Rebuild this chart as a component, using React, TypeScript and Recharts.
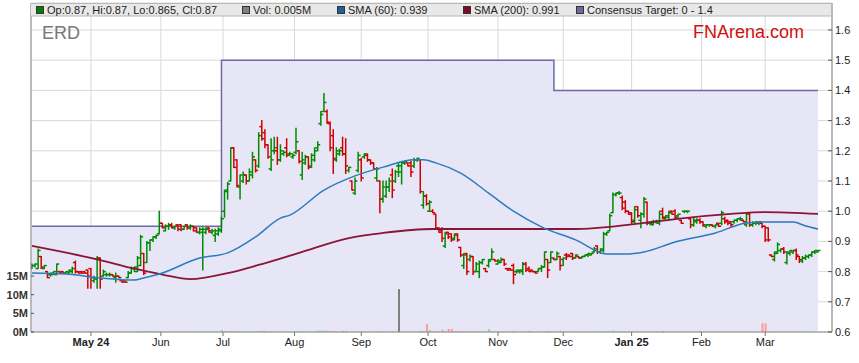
import React from 'react'
import {
  ComposedChart, Area, Bar, Line, XAxis, YAxis, CartesianGrid, Cell,
} from 'recharts'

// [open, high, low, close, volume (M)] per trading day
const apr24 = [
  [0.81, 0.825, 0.81, 0.82, 0.1], [0.82, 0.825, 0.815, 0.825, 0.05], [0.81, 0.875, 0.81, 0.87, 0.2],
  [0.85, 0.85, 0.81, 0.815, 0.1], [0.81, 0.82, 0.81, 0.82, 0.05], [0.8, 0.8, 0.78, 0.78, 0.1],
  [0.79, 0.795, 0.785, 0.79, 0.05], [0.795, 0.8, 0.79, 0.8, 0.05], [0.79, 0.825, 0.79, 0.825, 0.1],
  [0.8, 0.8, 0.795, 0.795, 0.05], [0.8, 0.8, 0.795, 0.795, 0.05], [0.795, 0.8, 0.795, 0.8, 0.05],
  [0.795, 0.805, 0.795, 0.805, 0.05], [0.8, 0.815, 0.795, 0.81, 0.1], [0.83, 0.835, 0.795, 0.8, 0.1],
  [0.8, 0.8, 0.795, 0.795, 0.05], [0.8, 0.8, 0.795, 0.795, 0.05], [0.8, 0.8, 0.795, 0.795, 0.05],
  [0.805, 0.805, 0.745, 0.785, 0.2],
]
const may24 = [
  [0.81, 0.81, 0.745, 0.78, 0.2], [0.77, 0.785, 0.765, 0.78, 0.1], [0.775, 0.85, 0.745, 0.845, 0.2],
  [0.845, 0.845, 0.745, 0.775, 0.2], [0.785, 0.805, 0.785, 0.8, 0.1], [0.79, 0.795, 0.785, 0.79, 0.05],
  [0.79, 0.795, 0.785, 0.79, 0.05], [0.79, 0.79, 0.785, 0.785, 0.05], [0.78, 0.795, 0.765, 0.785, 0.1],
  [0.785, 0.785, 0.78, 0.78, 0.05], [0.77, 0.77, 0.765, 0.765, 0.05], [0.77, 0.77, 0.765, 0.765, 0.05],
  [0.78, 0.8, 0.78, 0.795, 0.1], [0.795, 0.815, 0.795, 0.81, 0.1], [0.81, 0.815, 0.8, 0.815, 0.1],
  [0.8, 0.85, 0.8, 0.845, 0.2], [0.82, 0.92, 0.82, 0.915, 0.3], [0.86, 0.86, 0.79, 0.795, 0.2],
  [0.83, 0.9, 0.83, 0.895, 0.3], [0.895, 0.905, 0.87, 0.905, 0.3], [0.905, 0.915, 0.9, 0.915, 0.3],
  [0.915, 0.92, 0.91, 0.92, 0.1], [0.925, 1.0, 0.925, 0.96, 0.2],
]
const jun24 = [
  [0.96, 0.96, 0.945, 0.945, 0.1], [0.935, 0.955, 0.935, 0.95, 0.1], [0.95, 0.96, 0.94, 0.955, 0.1],
  [0.955, 0.96, 0.945, 0.945, 0.1], [0.945, 0.95, 0.94, 0.95, 0.05], [0.955, 0.955, 0.935, 0.94, 0.1],
  [0.955, 0.955, 0.935, 0.94, 0.1], [0.94, 0.95, 0.94, 0.95, 0.05], [0.955, 0.955, 0.94, 0.945, 0.1],
  [0.945, 0.955, 0.94, 0.95, 0.05], [0.95, 0.95, 0.935, 0.935, 0.05], [0.945, 0.945, 0.93, 0.93, 0.05],
  [0.93, 0.945, 0.925, 0.94, 0.1], [0.93, 0.945, 0.805, 0.94, 0.2], [0.93, 0.945, 0.925, 0.94, 0.05],
  [0.945, 0.945, 0.93, 0.935, 0.05], [0.93, 0.94, 0.925, 0.935, 0.05], [0.92, 0.94, 0.9, 0.935, 0.1],
  [0.925, 0.945, 0.92, 0.94, 0.1], [0.935, 0.98, 0.93, 0.975, 0.5],
]
const jul24 = [
  [1.0, 1.07, 0.98, 1.065, 0.2], [1.07, 1.095, 1.04, 1.09, 0.2], [1.1, 1.21, 1.1, 1.21, 0.3],
  [1.21, 1.21, 1.145, 1.145, 0.2], [1.17, 1.17, 1.08, 1.085, 0.2], [1.08, 1.12, 1.04, 1.12, 0.2],
  [1.1, 1.13, 1.095, 1.12, 0.1], [1.12, 1.12, 1.09, 1.1, 0.1], [1.1, 1.14, 1.1, 1.13, 0.1],
  [1.12, 1.195, 1.11, 1.18, 0.2], [1.17, 1.17, 1.13, 1.135, 0.1], [1.15, 1.26, 1.145, 1.25, 0.3],
  [1.28, 1.3, 1.235, 1.24, 0.3], [1.26, 1.27, 1.21, 1.22, 0.3], [1.22, 1.22, 1.175, 1.18, 0.1],
  [1.14, 1.24, 1.135, 1.17, 0.2], [1.2, 1.245, 1.19, 1.21, 0.1], [1.2, 1.245, 1.155, 1.17, 0.1],
  [1.17, 1.22, 1.165, 1.2, 0.1], [1.19, 1.2, 1.185, 1.195, 0.05], [1.21, 1.24, 1.18, 1.185, 0.1],
  [1.19, 1.195, 1.185, 1.19, 0.05], [1.18, 1.19, 1.175, 1.185, 0.05],
]
const aug24 = [
  [1.195, 1.275, 1.19, 1.23, 0.2], [1.2, 1.2, 1.16, 1.165, 0.1], [1.12, 1.195, 1.105, 1.17, 0.2],
  [1.16, 1.185, 1.155, 1.18, 0.1], [1.18, 1.18, 1.14, 1.145, 0.1], [1.15, 1.19, 1.145, 1.185, 0.1],
  [1.17, 1.21, 1.165, 1.2, 0.1], [1.21, 1.23, 1.2, 1.22, 0.4], [1.29, 1.33, 1.285, 1.32, 0.4],
  [1.33, 1.39, 1.33, 1.36, 0.4], [1.33, 1.335, 1.29, 1.295, 0.3], [1.29, 1.295, 1.2, 1.21, 0.3],
  [1.25, 1.27, 1.125, 1.175, 0.2], [1.17, 1.21, 1.165, 1.2, 0.1], [1.19, 1.205, 1.185, 1.2, 0.05],
  [1.21, 1.245, 1.185, 1.19, 0.3], [1.19, 1.24, 1.125, 1.15, 0.3], [1.135, 1.145, 1.13, 1.145, 0.05],
  [1.1, 1.1, 1.07, 1.07, 0.1], [1.06, 1.11, 1.055, 1.1, 0.1], [1.135, 1.195, 1.13, 1.185, 0.2],
]
const sep24 = [
  [1.17, 1.175, 1.1, 1.11, 0.2], [1.18, 1.19, 1.175, 1.19, 0.1], [1.185, 1.19, 1.165, 1.17, 0.1],
  [1.17, 1.17, 1.155, 1.16, 0.1], [1.16, 1.16, 1.14, 1.14, 0.1], [1.11, 1.145, 1.1, 1.14, 0.1],
  [1.1, 1.1, 0.995, 1.04, 0.2], [1.04, 1.1, 1.03, 1.08, 0.2], [1.05, 1.1, 1.045, 1.08, 0.1],
  [1.08, 1.11, 1.065, 1.1, 0.1], [1.12, 1.14, 1.045, 1.07, 0.2], [1.1, 1.135, 1.095, 1.13, 0.1],
  [1.15, 1.16, 1.115, 1.15, 11.5], [1.13, 1.165, 1.09, 1.16, 0.2], [1.16, 1.165, 1.155, 1.165, 0.05],
  [1.16, 1.16, 1.15, 1.15, 0.05], [1.16, 1.165, 1.115, 1.13, 0.1], [1.15, 1.175, 1.145, 1.17, 0.1],
  [1.17, 1.175, 1.165, 1.175, 0.05], [1.17, 1.17, 1.06, 1.065, 0.3], [1.02, 1.065, 1.01, 1.05, 0.2],
  [1.05, 1.055, 1.02, 1.025, 2.1],
]
const oct24 = [
  [1.0, 1.035, 1.0, 1.03, 0.5], [1.0, 1.005, 0.995, 0.995, 0.1], [0.99, 0.99, 0.94, 0.94, 0.2],
  [0.945, 0.945, 0.93, 0.93, 0.1], [0.935, 0.945, 0.9, 0.91, 0.6], [0.885, 0.93, 0.88, 0.925, 0.3],
  [0.93, 0.93, 0.91, 0.915, 0.8], [0.925, 0.925, 0.9, 0.905, 0.8], [0.91, 0.925, 0.905, 0.92, 0.2],
  [0.925, 0.925, 0.9, 0.905, 0.2], [0.88, 0.88, 0.85, 0.855, 0.2], [0.82, 0.86, 0.81, 0.855, 0.2],
  [0.86, 0.86, 0.79, 0.8, 0.2], [0.84, 0.855, 0.835, 0.85, 0.1], [0.85, 0.85, 0.79, 0.8, 0.2],
  [0.8, 0.83, 0.8, 0.825, 0.1], [0.8, 0.835, 0.78, 0.83, 0.2], [0.83, 0.84, 0.825, 0.84, 0.1],
  [0.81, 0.81, 0.8, 0.8, 0.1], [0.82, 0.84, 0.815, 0.835, 0.8], [0.84, 0.875, 0.84, 0.865, 0.2],
  [0.84, 0.84, 0.835, 0.835, 0.1],
]
const nov24 = [
  [0.825, 0.84, 0.825, 0.835, 0.1], [0.83, 0.845, 0.83, 0.84, 0.1], [0.84, 0.84, 0.82, 0.825, 0.1],
  [0.81, 0.81, 0.805, 0.805, 0.05], [0.81, 0.81, 0.805, 0.805, 0.05], [0.82, 0.825, 0.76, 0.79, 0.3],
  [0.8, 0.805, 0.795, 0.805, 0.05], [0.8, 0.805, 0.795, 0.805, 0.05], [0.8, 0.83, 0.79, 0.825, 0.1],
  [0.825, 0.83, 0.8, 0.805, 0.1], [0.81, 0.815, 0.8, 0.8, 0.3], [0.805, 0.805, 0.8, 0.8, 0.05],
  [0.8, 0.8, 0.795, 0.795, 0.05], [0.8, 0.81, 0.8, 0.81, 0.05], [0.81, 0.82, 0.8, 0.815, 0.1],
  [0.815, 0.865, 0.815, 0.865, 0.2], [0.84, 0.84, 0.78, 0.805, 0.3], [0.83, 0.865, 0.83, 0.865, 0.1],
  [0.845, 0.845, 0.84, 0.84, 0.05], [0.84, 0.865, 0.84, 0.86, 0.1], [0.85, 0.85, 0.805, 0.82, 0.3],
]
const dec24 = [
  [0.84, 0.845, 0.82, 0.845, 0.1], [0.855, 0.86, 0.84, 0.85, 0.1], [0.855, 0.855, 0.85, 0.85, 0.05],
  [0.86, 0.86, 0.84, 0.845, 0.1], [0.845, 0.855, 0.845, 0.855, 0.05], [0.85, 0.85, 0.845, 0.845, 0.05],
  [0.845, 0.85, 0.845, 0.85, 0.05], [0.85, 0.855, 0.85, 0.855, 0.05], [0.855, 0.86, 0.85, 0.86, 0.05],
  [0.855, 0.86, 0.855, 0.86, 0.05], [0.865, 0.88, 0.865, 0.875, 0.1], [0.885, 0.885, 0.86, 0.865, 0.1],
  [0.865, 0.875, 0.86, 0.875, 0.1], [0.87, 0.93, 0.865, 0.925, 0.2], [0.925, 0.93, 0.92, 0.93, 0.1],
  [0.935, 0.99, 0.935, 0.985, 0.2], [0.995, 1.06, 0.995, 1.055, 0.4], [1.055, 1.06, 1.05, 1.06, 0.1],
  [1.06, 1.065, 1.055, 1.06, 0.05], [1.045, 1.05, 1.005, 1.01, 0.2], [1.03, 1.035, 0.995, 1.0, 0.1],
  [1.0, 1.0, 0.99, 0.99, 0.05],
]
const jan25 = [
  [0.995, 0.995, 0.96, 0.965, 0.1], [0.97, 1.015, 0.96, 1.005, 0.1], [1.015, 1.015, 0.98, 0.985, 0.1],
  [0.97, 0.995, 0.945, 0.99, 0.1], [0.99, 1.045, 0.98, 1.04, 0.1], [1.03, 1.03, 0.955, 0.96, 0.1],
  [0.96, 0.965, 0.955, 0.96, 0.05], [0.955, 0.97, 0.955, 0.965, 0.05], [0.965, 0.97, 0.96, 0.965, 0.05],
  [0.96, 1.0, 0.955, 0.99, 0.1], [1.0, 1.01, 0.975, 0.98, 0.3], [0.975, 0.985, 0.975, 0.985, 0.05],
  [0.98, 1.0, 0.975, 0.995, 0.1], [1.0, 1.0, 0.99, 0.99, 0.05], [1.0, 1.005, 0.975, 0.98, 0.1],
  [0.985, 0.99, 0.98, 0.99, 0.05], [0.97, 0.97, 0.96, 0.96, 0.05], [1.0, 1.0, 0.995, 1.0, 0.05],
  [1.0, 1.0, 0.995, 1.0, 0.05], [0.975, 0.975, 0.945, 0.955, 0.1], [0.955, 0.98, 0.95, 0.97, 0.1],
  [0.965, 0.975, 0.96, 0.97, 0.05], [0.97, 0.975, 0.96, 0.965, 0.3],
]
const feb25 = [
  [0.965, 0.965, 0.95, 0.955, 0.05], [0.95, 0.955, 0.945, 0.955, 0.05], [0.955, 0.955, 0.95, 0.955, 0.05],
  [0.955, 0.955, 0.95, 0.95, 0.05], [0.95, 0.955, 0.945, 0.955, 0.05], [0.96, 0.96, 0.95, 0.95, 0.05],
  [0.96, 1.0, 0.955, 0.995, 0.1], [0.975, 0.98, 0.96, 0.965, 0.1], [0.97, 0.97, 0.955, 0.96, 0.05],
  [0.965, 0.965, 0.95, 0.955, 0.05], [0.965, 0.97, 0.96, 0.97, 0.05], [0.97, 0.975, 0.965, 0.975, 0.05],
  [0.975, 0.98, 0.97, 0.975, 0.05], [0.97, 0.97, 0.965, 0.965, 0.05], [0.955, 0.995, 0.95, 0.99, 0.1],
  [0.995, 0.995, 0.95, 0.955, 0.1], [0.955, 0.965, 0.95, 0.96, 0.05], [0.96, 0.965, 0.955, 0.965, 0.05],
  [0.96, 0.965, 0.955, 0.965, 0.05], [0.96, 0.96, 0.945, 0.95, 2.4],
]
const mar25 = [
  [0.95, 0.95, 0.9, 0.905, 2.3], [0.945, 0.945, 0.9, 0.905, 0.2], [0.855, 0.855, 0.85, 0.85, 0.1],
  [0.84, 0.865, 0.835, 0.86, 0.1], [0.865, 0.895, 0.86, 0.89, 0.1], [0.87, 0.875, 0.865, 0.875, 0.05],
  [0.875, 0.88, 0.86, 0.865, 0.1], [0.83, 0.865, 0.825, 0.865, 0.1], [0.86, 0.87, 0.855, 0.87, 0.05],
  [0.865, 0.87, 0.86, 0.87, 0.05], [0.87, 0.875, 0.84, 0.855, 0.1], [0.85, 0.85, 0.83, 0.84, 0.1],
  [0.835, 0.85, 0.83, 0.845, 0.1], [0.845, 0.855, 0.84, 0.85, 0.05], [0.85, 0.855, 0.845, 0.855, 0.05],
  [0.855, 0.865, 0.85, 0.865, 0.05], [0.865, 0.87, 0.86, 0.87, 0.05], [0.865, 0.87, 0.865, 0.87, 0.005],
]

// consensus target: day index where each level starts
const targetFrom = [0, 61, 168]
const targetLevel = [0.95, 1.5, 1.4]

// moving averages, read at these day indexes
const sma60Days = [0, 11, 22, 33, 36, 41, 54, 63, 72, 80, 83, 94, 104, 113, 123, 126, 130, 138, 147, 155, 164, 175, 185, 191, 197, 207, 220, 230, 236, 245, 249, 253]
const sma60 = [0.795, 0.792, 0.779, 0.772, 0.779, 0.792, 0.845, 0.862, 0.915, 0.977, 0.987, 1.07, 1.117, 1.146, 1.17, 1.17, 1.16, 1.126, 1.06, 1.0, 0.948, 0.905, 0.858, 0.858, 0.865, 0.898, 0.928, 0.961, 0.964, 0.964, 0.951, 0.941]
const sma200Days = [0, 22, 32, 42, 51, 63, 73, 86, 102, 113, 129, 155, 175, 186, 197, 207, 225, 236, 253]
const sma200 = [0.885, 0.838, 0.812, 0.79, 0.775, 0.795, 0.822, 0.862, 0.911, 0.928, 0.941, 0.941, 0.941, 0.948, 0.961, 0.974, 0.991, 0.997, 0.991]

const monthTicks = [19, 41.5, 61.5, 84.5, 106, 127.5, 150, 171, 193, 215.5, 236]
const monthLabels = ['May 24', 'Jun', 'Jul', 'Aug', 'Sep', 'Oct', 'Nov', 'Dec', 'Jan 25', 'Feb', 'Mar']
const priceTicks = [0.6, 0.7, 0.8, 0.9, 1.0, 1.1, 1.2, 1.3, 1.4, 1.5, 1.6]
const volTicks = [0, 5, 10, 15]

const FONT = '"Liberation Sans", Arial, sans-serif'
const UP = '#008a00'
const DOWN = '#d00000'

const bars = [...apr24, ...may24, ...jun24, ...jul24, ...aug24, ...sep24, ...oct24, ...nov24, ...dec24, ...jan25, ...feb25, ...mar25]

const rows = bars.map(([o, h, l, c, vol], i) => {
  let k = 0
  while (k + 1 < targetFrom.length && i >= targetFrom[k + 1]) k++
  return { i, o, h, l, c, vol, range: [l, h], target: targetLevel[k] }
})

const sma60Data = sma60Days.map((d, k) => ({ i: d, v: sma60[k] }))
const sma200Data = sma200Days.map((d, k) => ({ i: d, v: sma200[k] }))

// eslint-disable-next-line @typescript-eslint/no-explicit-any
function OhlcShape(props: any) {
  const { x, y, width, height, payload } = props
  if (x == null || y == null) return null
  const { o, h, l, c } = payload
  const top = Math.min(y, y + height)
  const bot = Math.max(y, y + height)
  const cx = x + width / 2
  const span = h - l
  const py = (v: number) => (span > 0 ? top + ((h - v) / span) * (bot - top) : top)
  const col = c >= o ? UP : DOWN
  return (
    <g stroke={col} strokeWidth={1.5}>
      <line x1={cx} x2={cx} y1={top - 0.5} y2={bot + 0.5} />
      <line x1={cx - 2.5} x2={cx} y1={py(o)} y2={py(o)} />
      <line x1={cx} x2={cx + 2.5} y1={py(c)} y2={py(c)} />
    </g>
  )
}

// eslint-disable-next-line @typescript-eslint/no-explicit-any
function MonthTick({ x, y, payload }: any) {
  const label = monthLabels[monthTicks.indexOf(payload.value)] ?? ''
  return (
    <text x={x} y={y} dy={8} textAnchor="middle" fontSize={11} fontFamily={FONT}
      fontWeight={label.includes(' ') ? 'bold' : 'normal'} fill="#222">
      {label}
    </text>
  )
}

// eslint-disable-next-line @typescript-eslint/no-explicit-any
function PriceTick({ x, y, payload }: any) {
  return (
    <g>
      <line x1={x - 4} x2={x} y1={y} y2={y} stroke="#555" />
      <text x={x + 3} y={y} dy={4} fontSize={11} fontFamily={FONT} fill="#222">{payload.value.toFixed(1)}</text>
    </g>
  )
}

// eslint-disable-next-line @typescript-eslint/no-explicit-any
function VolTick({ x, y, payload }: any) {
  return (
    <g>
      <line x1={x} x2={x + 3} y1={y} y2={y} stroke="#555" />
      <text x={x - 3} y={y} dy={4} textAnchor="end" fontSize={11} fontWeight="bold" fontFamily={FONT} fill="#333">
        {`${payload.value}M`}
      </text>
    </g>
  )
}

const legendItems = [
  { x: 36, color: '#008000', text: 'Op:0.87, Hi:0.87, Lo:0.865, Cl:0.87' },
  { x: 242, color: '#808080', text: 'Vol: 0.005M' },
  { x: 337, color: '#1a5f9e', text: 'SMA (60): 0.939' },
  { x: 463, color: '#7a0c2a', text: 'SMA (200): 0.991' },
  { x: 576, color: '#6a6a9e', text: 'Consensus Target: 0 - 1.4' },
]

export default function App() {
  return (
    <div style={{ position: 'absolute', left: 0, top: 0, width: 859, height: 363, background: '#fff' }}>
      <ComposedChart width={859} height={363} data={rows}
        margin={{ top: 3, right: 0, bottom: 0, left: 0 }} style={{ fontFamily: FONT }}>
        <CartesianGrid yAxisId="p" stroke="#d9d9d9" />
        <XAxis dataKey="i" type="number" domain={[-0.3, 257.5]} allowDataOverflow ticks={monthTicks}
          interval={0} height={31} tickSize={4} tickLine={{ stroke: '#777' }}
          axisLine={{ stroke: '#888' }} tick={<MonthTick />} />
        <XAxis xAxisId="v" dataKey="i" type="number" domain={[-0.3, 257.5]} allowDataOverflow hide />
        <YAxis yAxisId="p" orientation="right" type="number" domain={[0.6, 1.6894]} allowDataOverflow
          ticks={priceTicks} interval={0} width={27} tickSize={0} tickMargin={0} tickLine={false}
          axisLine={{ stroke: '#888' }} tick={<PriceTick />} />
        <YAxis yAxisId="v" orientation="left" type="number" domain={[0, 88.2]} allowDataOverflow
          ticks={volTicks} interval={0} width={31} tickSize={0} tickMargin={0} tickLine={false}
          axisLine={{ stroke: '#888' }} tick={<VolTick />} />
        <Area yAxisId="p" dataKey="target" type="stepAfter" stroke="#6b6ba6" strokeWidth={1.5}
          fill="#e6e6f6" fillOpacity={1} dot={false} activeDot={false} isAnimationActive={false} />
        <Bar xAxisId="v" yAxisId="v" dataKey="vol" barSize={2} isAnimationActive={false}>
          {rows.map(r => (
            <Cell key={r.i} fill={r.c > r.o ? '#8fe08f' : r.c < r.o ? '#ff9a9a' : '#808080'} />
          ))}
        </Bar>
        <Line data={sma200Data} yAxisId="p" dataKey="v" type="monotone" stroke="#8a1538" strokeWidth={1.8}
          dot={false} activeDot={false} isAnimationActive={false} />
        <Line data={sma60Data} yAxisId="p" dataKey="v" type="monotone" stroke="#2b7bbf" strokeWidth={1.5}
          dot={false} activeDot={false} isAnimationActive={false} />
        <Bar yAxisId="p" dataKey="range" barSize={3} shape={<OhlcShape />} isAnimationActive={false} />
      </ComposedChart>
      <svg width={859} height={363} style={{ position: 'absolute', left: 0, top: 0, pointerEvents: 'none' }}>
        <rect x={30.5} y={3.5} width={801} height={12.5} fill="#e8e8e8" stroke="#b8b8b8" strokeWidth={1} />
        {legendItems.map(it => (
          <g key={it.text}>
            <rect x={it.x + 0.5} y={6.5} width={7} height={7} fill={it.color} stroke="#333" strokeWidth={1} />
            <text x={it.x + 11} y={14} fontSize={11} fontFamily={FONT} fill="#222">{it.text}</text>
          </g>
        ))}
        <text x={42} y={39} fontSize={18} fontFamily={FONT} fill="#777">ERD</text>
        <text x={693} y={38} fontSize={18} fontFamily={FONT} fill="#d01010">FNArena.com</text>
      </svg>
    </div>
  )
}
